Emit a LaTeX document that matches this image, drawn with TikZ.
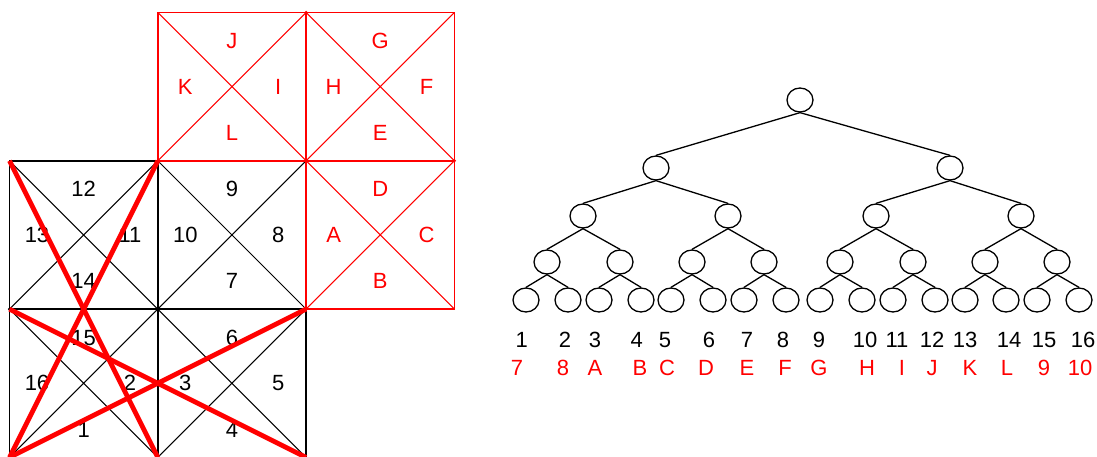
\documentclass[tikz,border=0pt]{standalone}
\usepackage{fontspec}
\setmainfont{Liberation Sans}
\usetikzlibrary{shapes.geometric}
\newcommand{\gcell}[8]{%
  \draw[#3 diag] (#1,#2) -- ++(148.3,148.3) (#1+148.3,#2) -- ++(-148.3,148.3);
  \draw[#3 box] (#1,#2) rectangle ++(148.3,148.3);
  \node[lbl,#3 txt] (#8t) at (#1+74.15,#2+28.5) {#4};
  \node[lbl,#3 txt] (#8l) at (#1+27.5,#2+74.15) {#5};
  \node[lbl,#3 txt] (#8r) at (#1+120.5,#2+74.15) {#6};
  \node[lbl,#3 txt] (#8b) at (#1+74.15,#2+120.5) {#7};
}
\begin{document}
\begin{tikzpicture}[x=1pt,y=-1pt,
  lbl/.style={inner sep=0pt, font=\fontsize{22}{25}\selectfont},
  bg diag/.style={draw=black, line width=1.05pt},
  bg box/.style={draw=black, line width=1.7pt},
  bg txt/.style={text=black},
  rg diag/.style={draw=red, line width=1.05pt},
  rg box/.style={draw=red, line width=1.5pt},
  rg txt/.style={text=red},
  star/.style={draw=red, line width=4.8pt},
  vdot/.style={circle, inner sep=0pt, minimum size=3.5pt},
  tn/.style={ellipse, draw=black, line width=1.3pt, minimum width=26pt, minimum height=24pt, inner sep=0pt},
  edge/.style={draw=black, line width=1.3pt},
  rlbl/.style={lbl, text=red}]
\useasboundingbox (0,0) rectangle (1097,457);
% ---------- black grid ----------
\gcell{9.5}{160.8}{bg}{12}{13}{11}{14}{c12}
\gcell{157.8}{160.8}{bg}{9}{10}{8}{7}{c9}
\gcell{9.5}{309.1}{bg}{15}{16}{2}{1}{c15}
\gcell{157.8}{309.1}{bg}{6}{3}{5}{4}{c6}
% ---------- red grid ----------
\gcell{157.8}{12.5}{rg}{J}{K}{I}{L}{cJ}
\gcell{306.1}{12.5}{rg}{G}{H}{F}{E}{cG}
\gcell{306.1}{160.8}{rg}{D}{A}{C}{B}{cD}
% vertex dots
\node[vdot, fill=black] (d1) at (9.5,309.1) {};
\node[vdot, fill=black] (d2) at (157.8,309.1) {};
\node[vdot, fill=red] (d3) at (157.8,160.8) {};
\node[vdot, fill=red] (d4) at (306.1,160.8) {};
\node[vdot, fill=red] (d5) at (306.1,12.5) {};
\node[vdot, fill=red] (d6) at (454.4,160.8) {};
\node[vdot, fill=red] (d7) at (306.1,309.1) {};
% ---------- red star ----------
\coordinate (s1) at (9.5,160.8);
\coordinate (s2) at (157.8,160.8);
\coordinate (s3) at (9.5,309.1);
\coordinate (s4) at (306.1,309.1);
\coordinate (s5) at (157.8,457.4);
\coordinate (s6) at (9.5,457.4);
\coordinate (s7) at (306.1,457.4);
\draw[star] (s1) -- (s5);
\draw[star] (s2) -- (s6);
\draw[star] (s3) -- (s7);
\draw[star] (s4) -- (s6);
% ---------- tree ----------
\node[tn] (r) at (800,100) {};
\node[tn] (a1) at (656,168) {};
\node[tn] (a2) at (950,168) {};
\node[tn] (b1) at (583,216) {};
\node[tn] (b2) at (728,216) {};
\node[tn] (b3) at (876,216) {};
\node[tn] (b4) at (1021,216) {};
\foreach \i/\x in {1/547,2/620,3/692,4/764,5/840,6/913,7/985,8/1057}
  \node[tn] (c\i) at (\x,262) {};
\foreach \i/\x in {1/526,2/568,3/599,4/641,5/671,6/713,7/744,8/786,9/820,10/862,11/893,12/935,13/965,14/1006,15/1037,16/1079}
  \node[tn] (l\i) at (\x,300) {};
\draw[edge] (r.south) -- (a1.north);
\draw[edge] (r.south) -- (a2.north);
\draw[edge] (a1.south) -- (b1.north);
\draw[edge] (a1.south) -- (b2.north);
\draw[edge] (a2.south) -- (b3.north);
\draw[edge] (a2.south) -- (b4.north);
\foreach \p/\ca/\cb in {1/1/2,2/3/4,3/5/6,4/7/8}{
  \draw[edge] (b\p.south) -- (c\ca.north);
  \draw[edge] (b\p.south) -- (c\cb.north);
}
\foreach \p/\ca/\cb in {1/1/2,2/3/4,3/5/6,4/7/8,5/9/10,6/11/12,7/13/14,8/15/16}{
  \draw[edge] (c\p.south) -- (l\ca.north);
  \draw[edge] (c\p.south) -- (l\cb.north);
}
% ---------- labels ----------
\foreach \i/\x in {1/521.7,2/565,3/595,4/636.7,5/665,6/709,7/747,8/783,9/819,10/865,11/897,12/932,13/965,14/1009,15/1044,16/1083}
  \node[lbl] (n\i) at (\x,340) {\i};
\foreach \i/\x/\t in {1/517/7,2/563/8,3/595/A,4/640/B,5/667/C,6/706/D,7/747/E,8/785/F,9/819/G,10/867/H,11/902/I,12/932/J,13/970/K,14/1007/L,15/1044/9,16/1080/10}
  \node[rlbl] (m\i) at (\x,368) {\t};
\end{tikzpicture}
\end{document}
